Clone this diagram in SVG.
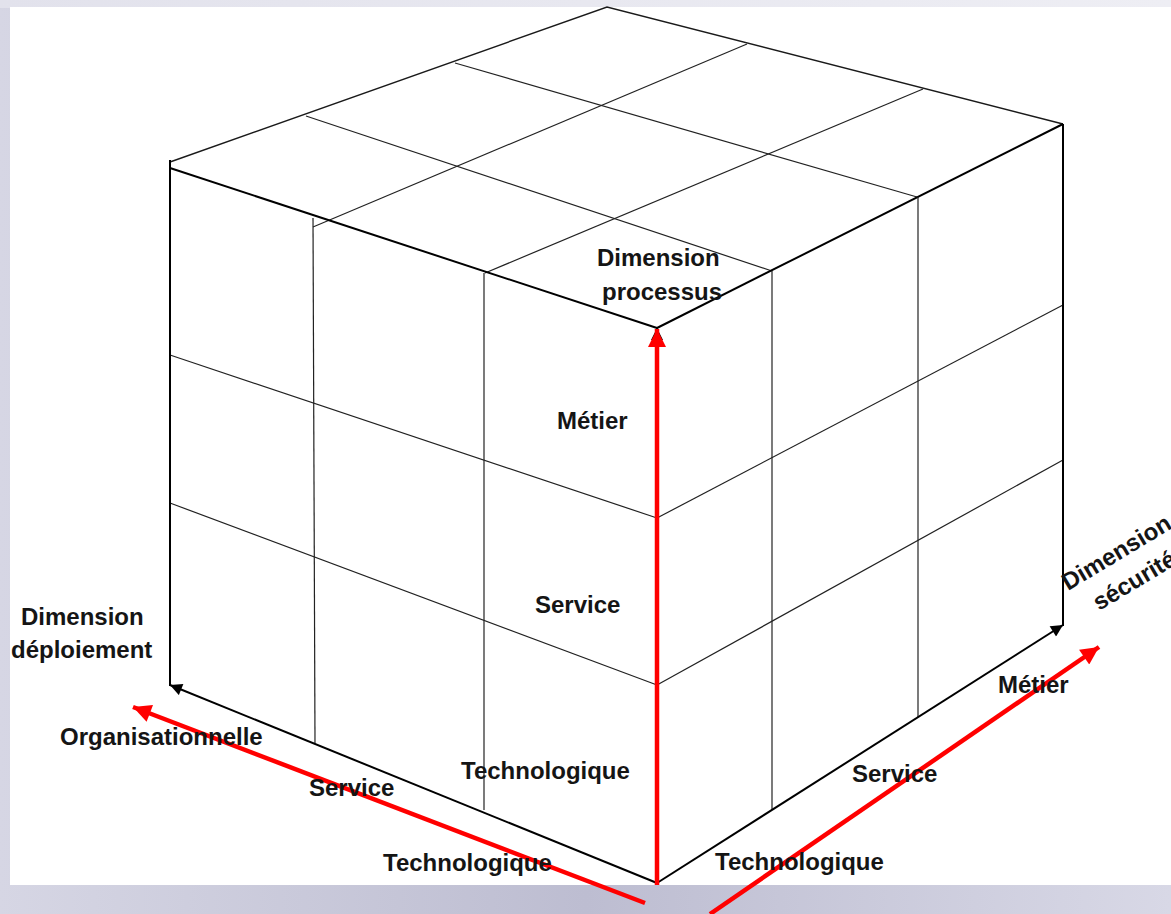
<svg xmlns="http://www.w3.org/2000/svg" width="1171" height="914" viewBox="0 0 1171 914">
  <defs>
    <linearGradient id="bg" x1="0" y1="0" x2="1" y2="0">
      <stop offset="0" stop-color="#d6d6e4"/>
      <stop offset="0.5" stop-color="#bdbdd1"/>
      <stop offset="1" stop-color="#d8d8e6"/>
    </linearGradient>
    <linearGradient id="topbg" x1="0" y1="0" x2="1" y2="0">
      <stop offset="0" stop-color="#e2e2ec"/>
      <stop offset="1" stop-color="#eeeef4"/>
    </linearGradient>
    <marker id="blk" viewBox="0 0 10 10" refX="10" refY="5" markerWidth="14" markerHeight="12" markerUnits="userSpaceOnUse" orient="auto">
      <path d="M0,0 L10,5 L0,10 z" fill="#000"/>
    </marker>
    <marker id="red" viewBox="0 0 10 10" refX="10" refY="5" markerWidth="22" markerHeight="18" markerUnits="userSpaceOnUse" orient="auto">
      <path d="M0,0 L10,5 L0,10 z" fill="#ff0000"/>
    </marker>
    <style>
      .edge{stroke:#000;stroke-width:2;fill:none}
      .thin{stroke:#1a1a1a;stroke-width:1.4;fill:none}
      .grid{stroke:#222;stroke-width:1.2;fill:none}
      .rarr{stroke:#ff0000;stroke-width:4.5;fill:none;marker-end:url(#red)}
      .lbl{font-family:"Liberation Sans",Arial,sans-serif;font-weight:bold;font-size:24px;fill:#151515}
    </style>
  </defs>

  <g id="background">
    <rect x="0" y="0" width="1171" height="914" fill="url(#bg)"/>
    <rect x="0" y="0" width="1171" height="8" fill="url(#topbg)"/>
    <rect x="10" y="7" width="1161" height="878" fill="#ffffff"/>
  </g>

  <g id="cube">
    <!-- top face -->
    <g id="top-face">
      <path class="thin" d="M170,162 L607,7 L1063,124"/>
      <path class="grid" d="M747,44 L313,227"/>
      <path class="grid" d="M923,89 L485,273"/>
      <path class="grid" d="M455,63 L917,197"/>
      <path class="grid" d="M306,116 L772,271"/>
    </g>
    <!-- front-left face -->
    <g id="left-face">
      <path class="edge" d="M170,168 L657,328"/>
      <path class="grid" d="M313,218 L315,743"/>
      <path class="grid" d="M484,273 L484,810"/>
      <path class="grid" d="M170,355 L657,518"/>
      <path class="grid" d="M170,503 L657,685"/>
    </g>
    <!-- front-right face -->
    <g id="right-face">
      <path class="edge" d="M657,328 L1063,124"/>
      <path class="grid" d="M772,271 L772,810"/>
      <path class="grid" d="M918,197 L918,717"/>
      <path class="grid" d="M657,518 L1063,305"/>
      <path class="grid" d="M657,685 L1063,460"/>
    </g>
  </g>

  <g id="connectors">
    <path class="edge" d="M170,160 L170,686"/>
    <path class="edge" d="M1063,124 L1063,626"/>
    <path class="edge" d="M657,883 L170,685" marker-end="url(#blk)"/>
    <path class="edge" d="M657,883 L1063,625" marker-end="url(#blk)"/>
    <path class="edge" d="M657,883 L657,328" marker-end="url(#blk)"/>
    <path class="rarr" d="M657,885 L657,329"/>
    <path class="rarr" d="M645,903 L133,707"/>
    <path class="rarr" d="M710,914 L1099,647"/>
  </g>

  <g id="label-processus">
    <text class="lbl" x="597" y="266">Dimension</text>
    <text class="lbl" x="602" y="300">processus</text>
  </g>
  <g id="labels-front">
    <text class="lbl" x="557" y="429">Métier</text>
    <text class="lbl" x="535" y="613">Service</text>
    <text class="lbl" x="461" y="779">Technologique</text>
  </g>
  <g id="label-deploiement">
    <text class="lbl" x="21" y="625">Dimension</text>
    <text class="lbl" x="11" y="658">déploiement</text>
  </g>
  <g id="labels-left-axis">
    <text class="lbl" x="60" y="745">Organisationnelle</text>
    <text class="lbl" x="309" y="796">Service</text>
    <text class="lbl" x="383" y="871">Technologique</text>
  </g>
  <g id="labels-right-axis">
    <text class="lbl" x="715" y="870">Technologique</text>
    <text class="lbl" x="852" y="782">Service</text>
    <text class="lbl" x="998" y="693">Métier</text>
  </g>
  <g id="label-securite">
    <text class="lbl" x="1068" y="591" transform="rotate(-31 1068 591)">Dimension</text>
    <text class="lbl" x="1099" y="611" transform="rotate(-31 1099 611)">sécurité</text>
  </g>
</svg>
